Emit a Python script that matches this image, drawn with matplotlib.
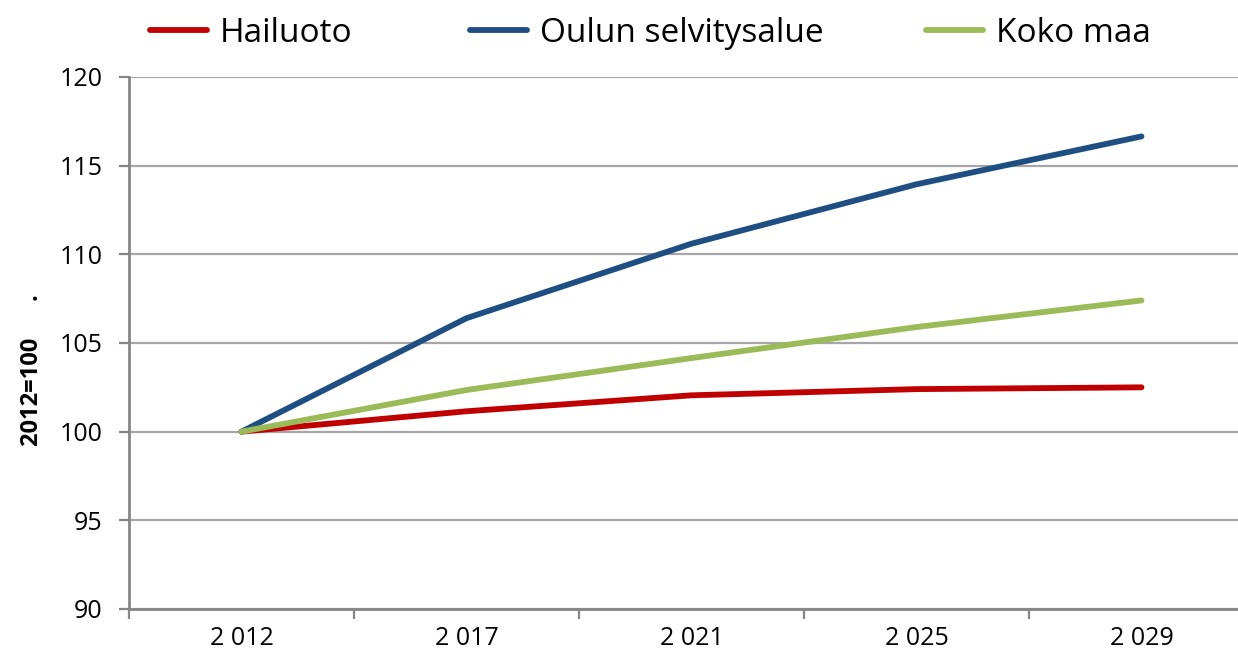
import numpy as np
import matplotlib.pyplot as plt
from matplotlib.ticker import FixedLocator

plt.rcParams['font.family'] = ['Open Sans', 'DejaVu Sans']

years = ['2 012', '2 017', '2 021', '2 025', '2 029']
hailuoto = [100.0, 101.15, 102.05, 102.4, 102.5]
oulu = [100.0, 106.4, 110.6, 113.95, 116.65]
koko_maa = [100.0, 102.35, 104.15, 105.9, 107.4]

red = '#C00000'
blue = '#1F4E82'
green = '#9BBB59'
grid_c = '#A6A6A6'
axis_c = '#868686'

W, H = 1238, 656
fig = plt.figure(figsize=(W/100, H/100), dpi=100)
ax = fig.add_axes([129/W, 1-609/H, 1125/W, (609-77)/H])

x = np.arange(len(years))
lw = 4.2
l1, = ax.plot(x, hailuoto, color=red, lw=lw, solid_capstyle='round', label='Hailuoto', zorder=3)
l2, = ax.plot(x, oulu, color=blue, lw=lw, solid_capstyle='round', label='Oulun selvitysalue', zorder=4)
l3, = ax.plot(x, koko_maa, color=green, lw=lw, solid_capstyle='round', label='Koko maa', zorder=5)

ax.set_xlim(-0.5, len(years) - 0.5)
ax.set_ylim(90, 120)
ax.set_yticks(np.arange(90, 121, 5))
ax.yaxis.grid(True, color=grid_c, lw=1.6)
ax.set_axisbelow(True)

ax.set_xticks(x)
ax.set_xticklabels(years)
ax.xaxis.set_minor_locator(FixedLocator(np.arange(-0.5, len(years), 1.0)))
ax.tick_params(axis='x', which='major', length=0, pad=12, labelsize=18)
ax.tick_params(axis='x', which='minor', length=7, width=1.6, color=axis_c, direction='out')
ax.tick_params(axis='y', length=7, width=1.6, color=axis_c, pad=12, labelsize=18)

for s in ['top', 'right']:
    ax.spines[s].set_visible(False)
for s in ['left', 'bottom']:
    ax.spines[s].set_color(axis_c)
    ax.spines[s].set_linewidth(2)

ax.set_ylabel('2012=100      .', fontsize=17, fontweight='bold')
ax.yaxis.set_label_coords((44-129)/1125, (609-370)/532)

# one legend per entry so each sits where the original has it
for h, xpx in [(l1, 150), (l2, 470), (l3, 926)]:
    fig.legend(handles=[h], loc='upper left', bbox_to_anchor=(xpx/W, 1-17/H),
               frameon=False, fontsize=24, handlelength=1.7, handletextpad=0.4,
               borderpad=0, borderaxespad=0)

fig.savefig('out.png', dpi=100)
